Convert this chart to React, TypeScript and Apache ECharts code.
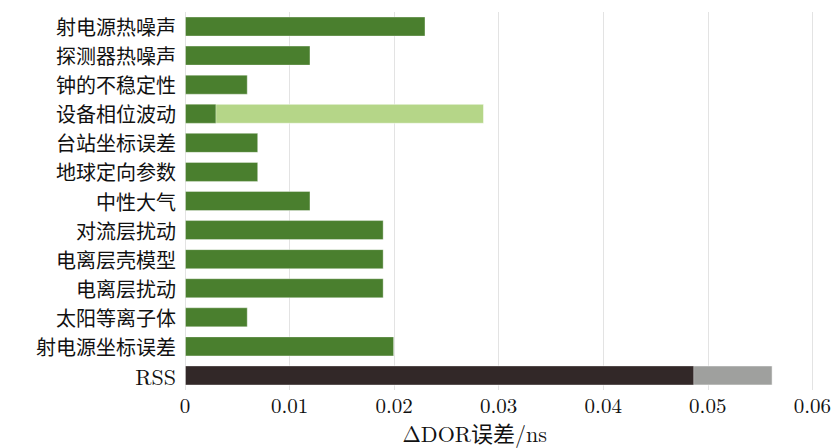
import React, { useEffect, useRef } from "react";
import * as echarts from "echarts";

const categories = [
  "射电源热噪声",
  "探测器热噪声",
  "钟的不稳定性",
  "设备相位波动",
  "台站坐标误差",
  "地球定向参数",
  "中性大气",
  "对流层扰动",
  "电离层壳模型",
  "电离层扰动",
  "太阳等离子体",
  "射电源坐标误差",
  "RSS",
];

// main (dark) values
const mainValues = [0.023, 0.012, 0.006, 0.003, 0.007, 0.007, 0.012, 0.019, 0.019, 0.019, 0.006, 0.02, 0.0487];
// extended (background) values, null where none
const extValues: (number | null)[] = [null, null, null, 0.0286, null, null, null, null, null, null, null, null, 0.0562];

const xTicks = [0, 0.01, 0.02, 0.03, 0.04, 0.05, 0.06];

const FONT = "'Latin Modern Roman', 'DejaVu Serif', 'Liberation Serif', 'Noto Sans CJK SC', serif";

export default function App() {
  const ref = useRef<HTMLDivElement>(null);
  useEffect(() => {
    if (!ref.current) return;
    const chart = echarts.init(ref.current, null, { renderer: "svg" });
    const n = categories.length;
    const mainColors = categories.map((_, i) => (i === n - 1 ? "#322828" : "#4a7f2e"));
    const extColors = categories.map((_, i) => (i === n - 1 ? "#9fa09e" : "#b5d688"));
    chart.setOption({
      animation: false,
      grid: { left: 185, right: 18, top: 12, bottom: 57, containLabel: false },
      xAxis: {
        type: "value",
        min: 0,
        max: 0.06,
        interval: 0.01,
        name: "ΔDOR误差/ns",
        nameLocation: "middle",
        nameGap: 31,
        nameTextStyle: { fontFamily: FONT, fontSize: 22, lineHeight: 22, color: "#111", padding: [0, 48, 0, 0] },
        axisLine: { show: false },
        axisTick: { show: false },
        axisLabel: {
          fontFamily: FONT,
          fontSize: 21,
          lineHeight: 21,
          color: "#111",
          margin: 3,
          formatter: (v: number) => {
            const t = xTicks.find((x) => Math.abs(x - v) < 1e-9);
            return t === 0 ? "0" : String(Number(v.toFixed(2)));
          },
        },
        splitLine: { show: true, lineStyle: { color: "#e3e3e3", width: 1 } },
      },
      yAxis: {
        type: "category",
        data: categories.slice().reverse(),
        inverse: false,
        axisLine: { show: false },
        axisTick: { show: false },
        axisLabel: {
          fontFamily: FONT,
          fontSize: 20,
          lineHeight: 24,
          color: "#111",
          margin: 9,
          interval: 0,
          formatter: (v: string) => (/^[A-Za-z]+$/.test(v) ? "{r|" + v + "}" : v),
          rich: { r: { fontFamily: FONT, fontSize: 22, lineHeight: 24, color: "#111" } },
        },
      },
      series: [
        {
          type: "bar",
          data: extValues
            .map((v, i) => ({ value: v, itemStyle: { color: extColors[i], borderColor: "rgba(255,255,255,0.5)", borderWidth: 1 } }))
            .reverse(),
          barWidth: 20,
          barGap: "-100%",
          z: 1,
        },
        {
          type: "bar",
          data: mainValues
            .map((v, i) => ({ value: v, itemStyle: { color: mainColors[i], borderColor: "rgba(255,255,255,0.35)", borderWidth: 1 } }))
            .reverse(),
          barWidth: 20,
          barGap: "-100%",
          z: 2,
        },
      ],
    });
    return () => chart.dispose();
  }, []);
  return <div ref={ref} style={{ width: 834, height: 448, position: "absolute", left: 0, top: 0, background: "#fff" }} />;
}
